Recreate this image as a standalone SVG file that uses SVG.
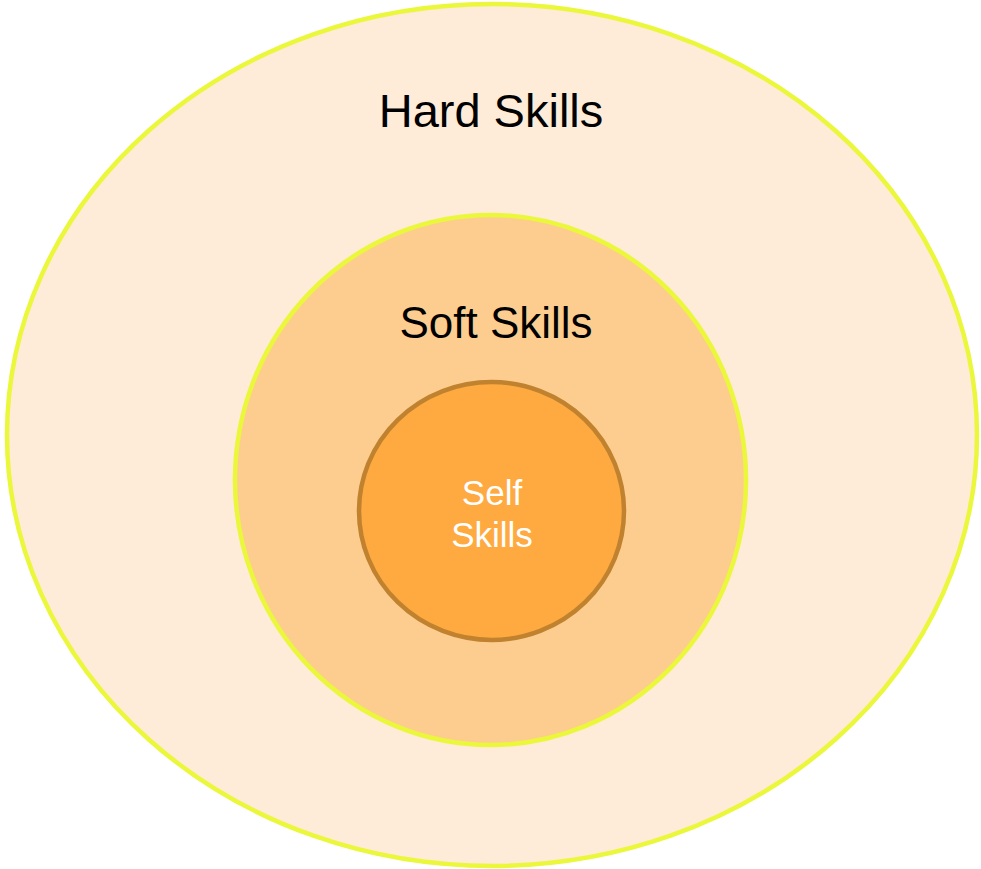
<svg xmlns="http://www.w3.org/2000/svg" width="981" height="869" viewBox="0 0 981 869">
<style>
text{font-family:"Liberation Sans",Arial,sans-serif;text-anchor:middle}
.ring{stroke:#EBF73A;stroke-width:4.5}
</style>
<rect width="981" height="869" fill="#FFFFFF"/>
<g id="hard">
<ellipse class="ring" cx="492" cy="435" rx="485" ry="431" fill="#FEEBD8"/>
<text x="491" y="127" font-size="47" fill="#000">Hard Skills</text>
</g>
<g id="soft">
<ellipse class="ring" cx="490.5" cy="480" rx="255.5" ry="265" fill="#FDCD8F"/>
<text x="496" y="338" font-size="44" fill="#000">Soft Skills</text>
</g>
<g id="self">
<ellipse cx="491.5" cy="511" rx="132.5" ry="129" fill="#FEAA41" stroke="#C1822F" stroke-width="4.5"/>
<text x="492" y="505" font-size="35" fill="#FFFFFF">Self</text>
<text x="492" y="547" font-size="35" fill="#FFFFFF">Skills</text>
</g>
<g id="connectors"/>
</svg>
